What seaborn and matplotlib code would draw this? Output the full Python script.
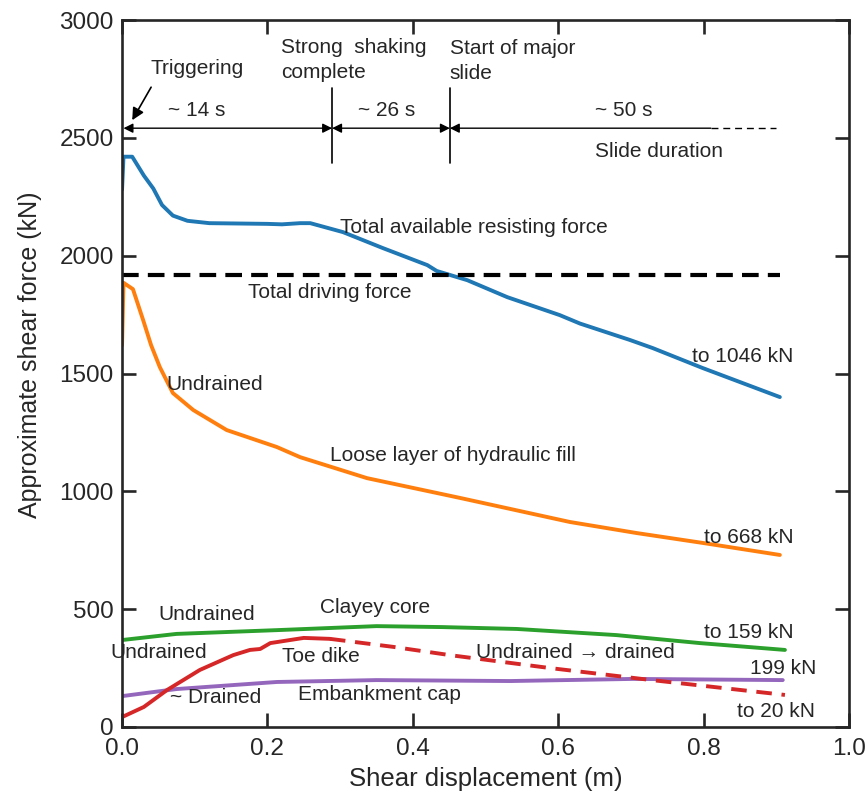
import matplotlib
matplotlib.use("Agg")
import matplotlib.pyplot as plt
import seaborn as sns
import pandas as pd

# ---------------- data ----------------
blue_x = [0.0, 0.002, 0.014, 0.03, 0.043, 0.055, 0.07, 0.09, 0.12, 0.2, 0.22, 0.245, 0.259,
          0.304, 0.359, 0.42, 0.433, 0.475, 0.53, 0.602, 0.63, 0.699, 0.73, 0.799, 0.905]
blue_y = [2280, 2420, 2420, 2340, 2285, 2215, 2170, 2148, 2138, 2135, 2133, 2138, 2138,
          2100, 2032, 1960, 1935, 1896, 1824, 1748, 1712, 1642, 1608, 1523, 1400]

orange_x = [0.0, 0.002, 0.015, 0.029, 0.04, 0.052, 0.07, 0.098, 0.144, 0.213, 0.245, 0.337,
            0.465, 0.616, 0.708, 0.799, 0.905]
orange_y = [1620, 1885, 1858, 1727, 1620, 1527, 1417, 1345, 1260, 1188, 1145, 1056,
            972, 870, 823, 781, 730]

green_x = [0.0, 0.075, 0.213, 0.35, 0.44, 0.543, 0.68, 0.795, 0.912]
green_y = [369, 395, 411, 428, 424, 416, 390, 356, 327]

red_solid_x = [0.0, 0.03, 0.062, 0.107, 0.153, 0.176, 0.19, 0.204, 0.25, 0.286]
red_solid_y = [42, 85, 157, 242, 305, 327, 331, 356, 378, 374]
red_dash_x = [0.286, 0.373, 0.451, 0.589, 0.726, 0.912]
red_dash_y = [374, 340, 305, 250, 200, 136]

purple_x = [0.0, 0.075, 0.213, 0.35, 0.534, 0.703, 0.909]
purple_y = [131, 161, 191, 199, 195, 204, 199]

driving_x = [0.0, 0.905]
driving_y = [1920, 1920]

# event markers (shear displacement, m)
events_x = [0.0, 0.289, 0.451]
slide_end_solid = 0.81
slide_end_dash = 0.90

# ---------------- style ----------------
sns.set_style("ticks")
plt.rcParams['font.family'] = ['Liberation Sans', 'DejaVu Sans']
plt.rcParams['axes.linewidth'] = 1.9

fig = plt.figure(figsize=(8.68, 8.01), dpi=100)
ax = fig.add_axes([0.1406, 0.0924, 0.8374, 0.8826])

lw = 2.8
def line(xs, ys, color, **kw):
    df = pd.DataFrame({"x": xs, "y": ys})
    sns.lineplot(data=df, x="x", y="y", ax=ax, color=color, lw=lw,
                 estimator=None, sort=False, **kw)

line(blue_x, blue_y, "#1f77b4")
line(orange_x, orange_y, "#ff7f0e")
line(green_x, green_y, "#2ca02c")
line(purple_x, purple_y, "#9467bd")
line(red_solid_x, red_solid_y, "#d62728")
df_rd = pd.DataFrame({"x": red_dash_x, "y": red_dash_y})
sns.lineplot(data=df_rd, x="x", y="y", ax=ax, color="#d62728", lw=lw,
             estimator=None, sort=False)
ax.lines[-1].set_linestyle((0, (4, 2.5)))
df_dr = pd.DataFrame({"x": driving_x, "y": driving_y})
sns.lineplot(data=df_dr, x="x", y="y", ax=ax, color="black", lw=3.0,
             estimator=None, sort=False)
ax.lines[-1].set_linestyle((0, (4, 2.2)))

ax.set_xlim(0, 1.0)
ax.set_ylim(0, 3000)
ax.set_xticks([0.0, 0.2, 0.4, 0.6, 0.8, 1.0])
ax.set_xticklabels(["0.0", "0.2", "0.4", "0.6", "0.8", "1.0"])
ax.set_yticks([0, 500, 1000, 1500, 2000, 2500, 3000])
ax.tick_params(direction="in", length=10, width=1.9, top=True, right=True,
               labelsize=17.5)
ax.tick_params(axis="x", pad=8)
ax.tick_params(axis="y", pad=6)
ax.set_xlabel("Shear displacement (m)", fontsize=18.5, labelpad=5)
ax.set_ylabel("Approximate shear force (kN)", fontsize=18, labelpad=10)
ax.yaxis.set_label_coords(-0.11, 0.527)

# ---------------- annotations ----------------
fs = 15
arrow_y = 2541
for xv in events_x[1:]:
    ax.plot([xv, xv], [2393, 2711], color="black", lw=1.2)
akw = dict(arrowstyle="<|-|>", color="black", lw=1.0, mutation_scale=14,
           shrinkA=0, shrinkB=0)
ax.annotate("", xy=(events_x[0] + 0.002, arrow_y), xytext=(events_x[1], arrow_y), arrowprops=akw)
ax.annotate("", xy=(events_x[1], arrow_y), xytext=(events_x[2], arrow_y), arrowprops=akw)
ax.annotate("", xy=(events_x[2], arrow_y), xytext=(slide_end_solid, arrow_y),
            arrowprops=dict(arrowstyle="-|>", color="black", lw=1.0, mutation_scale=14,
                            shrinkA=0, shrinkB=0))
ax.plot([slide_end_solid, slide_end_dash], [arrow_y, arrow_y], color="black", lw=1.0,
        ls=(0, (5, 3.5)))
ax.annotate("", xy=(0.014, 2575), xytext=(0.04, 2715),
            arrowprops=dict(arrowstyle="-|>", color="black", lw=1.2, mutation_scale=18,
                            shrinkA=0, shrinkB=0))

def txt(x, y, s, ha="left", va="center", **kw):
    ax.text(x, y, s, fontsize=fs, ha=ha, va=va, **kw)

txt(0.039, 2795, "Triggering")
txt(0.103, 2617, "~ 14 s", ha="center")
txt(0.219, 2830, "Strong  shaking\ncomplete", linespacing=1.36)
txt(0.451, 2826, "Start of major\nslide", linespacing=1.36)
txt(0.364, 2617, "~ 26 s", ha="center")
txt(0.69, 2617, "~ 50 s", ha="center")
txt(0.739, 2440, "Slide duration", ha="center")
txt(0.300, 2121, "Total available resisting force")
txt(0.173, 1845, "Total driving force")
txt(0.784, 1574, "to 1046 kN")
txt(0.0605, 1455, "Undrained")
txt(0.286, 1150, "Loose layer of hydraulic fill")
txt(0.800, 802, "to 668 kN")
txt(0.0495, 479, "Undrained")
txt(0.272, 509, "Clayey core")
txt(0.800, 399, "to 159 kN")
ax.text(-0.0165, 318, "Undrained", fontsize=fs, ha="left", va="center", clip_on=False)
txt(0.220, 301, "Toe dike")
txt(0.487, 318, "Undrained \u2192 drained")
txt(0.864, 250, "199 kN")
txt(0.066, 127, "~ Drained")
txt(0.242, 136, "Embankment cap")
txt(0.846, 64, "to 20 kN")

fig.savefig("out.png", dpi=100)
